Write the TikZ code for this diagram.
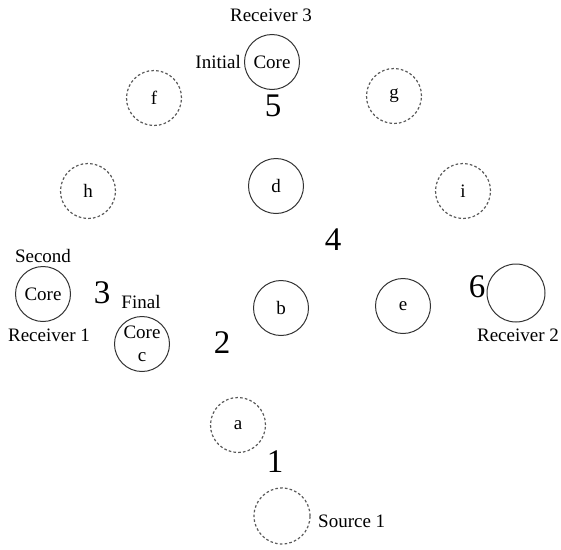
\documentclass[tikz,border=0pt]{standalone}
\usepackage{fontspec}
\setmainfont{Liberation Serif}
\begin{document}
\begin{tikzpicture}[x=1pt,y=-1pt,
  router/.style={circle,draw=black!80,line width=1pt,minimum size=55pt,inner sep=0pt,font=\fontsize{19}{19}\selectfont},
  idle/.style={router,draw=black!65,dash pattern=on 2.6pt off 2.2pt,line width=1.2pt},
  lbl/.style={font=\fontsize{19}{19}\selectfont,inner sep=0pt},
  num/.style={font=\fontsize{33}{33}\selectfont,inner sep=0pt}]
\useasboundingbox (0,0) rectangle (561,549);
% routers
\node[router] (core3) at (272,62) {Core};
\node[idle] (f) at (154,98) {f};
\node[idle] (g) at (394,96) {g};
\node[idle] (h) at (88,191) {h};
\node[router] (d) at (276,186) {d};
\node[idle] (i) at (463,191) {i};
\node[router] (core1) at (43,294) {Core};
\node[router,align=center] (c) at (142,344) {Core\\[4pt]c};
\node[router] (b) at (281,308) {b};
\node[router] (e) at (403,306) {e};
\node[router,minimum size=58pt] (r2) at (516,293) {};
\node[idle] (a) at (238,425) {a};
\node[idle,minimum size=56pt] (s1) at (282,516) {};
% labels
\node[lbl] (t3) at (271,15) {Receiver 3};
\node[lbl,anchor=east] (tinit) at (241,62) {Initial};
\node[lbl] (tsec) at (43,256) {Second};
\node[lbl] (tr1) at (49,335) {Receiver 1};
\node[lbl] (tfin) at (141,302) {Final};
\node[lbl] (tr2) at (518,335) {Receiver 2};
\node[lbl,anchor=west] (ts1) at (318,521) {Source 1};
% hop numbers
\node[num] (n1) at (275,462) {1};
\node[num] (n2) at (222,343) {2};
\node[num] (n3) at (102,293) {3};
\node[num] (n4) at (333,240) {4};
\node[num] (n5) at (273,106) {5};
\node[num] (n6) at (477,287) {6};
\end{tikzpicture}
\end{document}
